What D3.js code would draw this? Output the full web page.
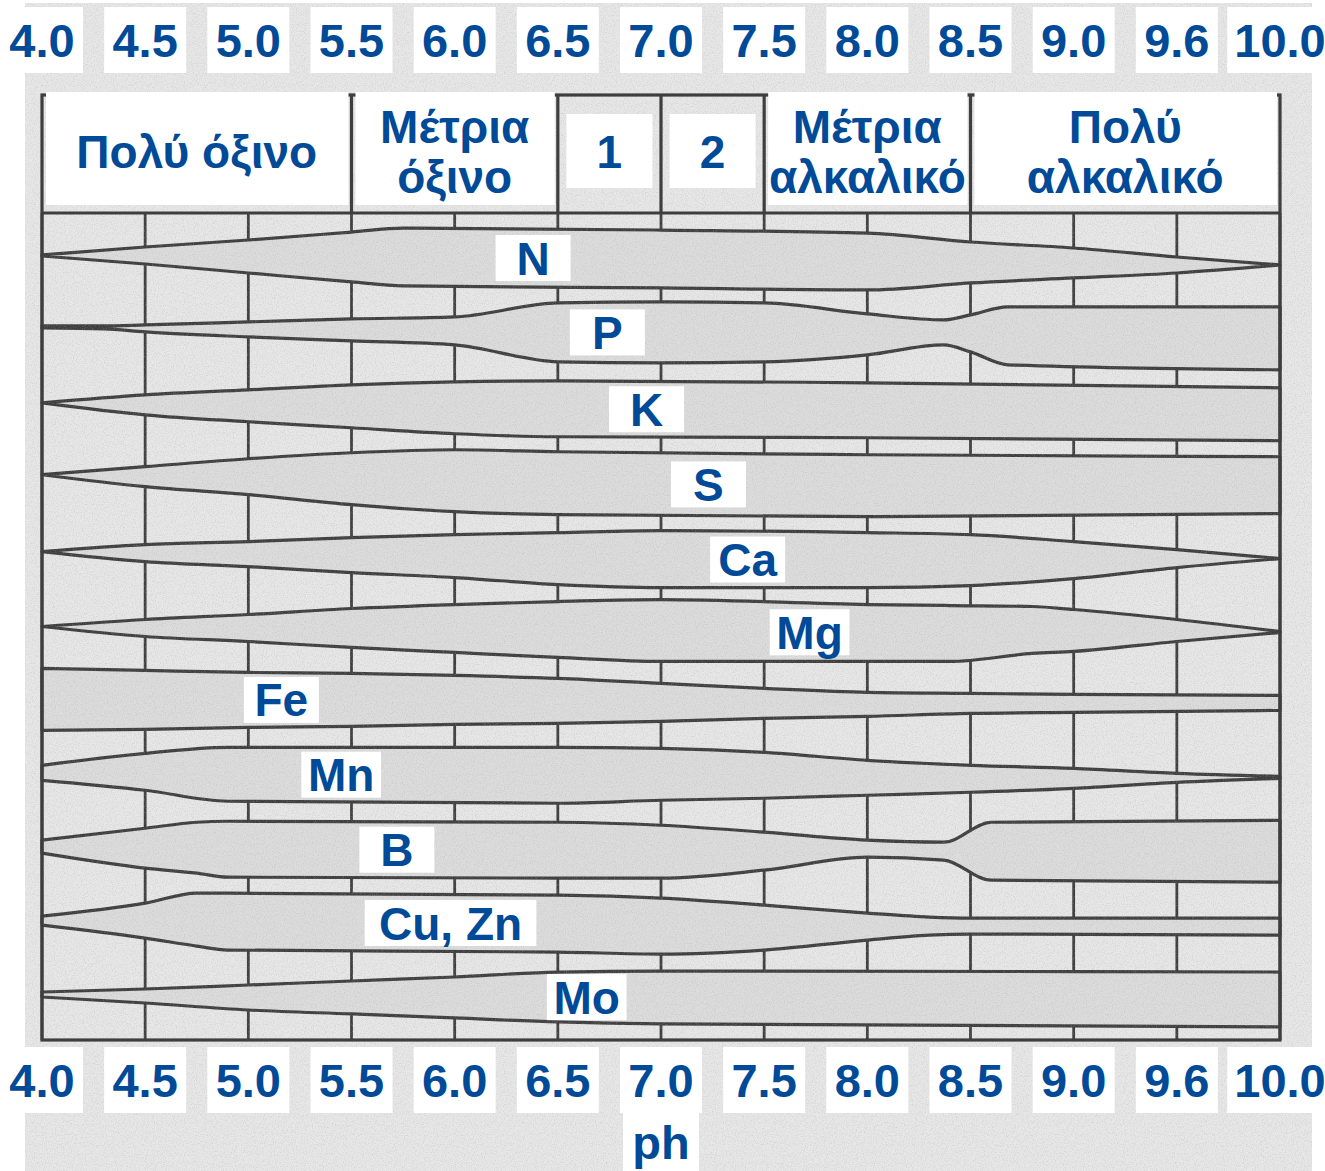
<!DOCTYPE html>
<html>
<head>
<meta charset="utf-8">
<script src="https://cdn.jsdelivr.net/npm/d3@7"></script>
<style>
body { margin: 0; background: #fff; }
text { font-family: "Liberation Sans", Arial, sans-serif; font-weight: bold; fill: #004a98; }
</style>
</head>
<body>
<div id="chart"></div>
<script>
//pH ticks along top and bottom
var phTicks = [4.0, 4.5, 5.0, 5.5, 6.0, 6.5, 7.0, 7.5, 8.0, 8.5, 9.0, 9.6, 10.0];
var tickLabels = ["4.0", "4.5", "5.0", "5.5", "6.0", "6.5", "7.0", "7.5", "8.0", "8.5", "9.0", "9.6", "10.0"];

//soil reaction zones in the header
var zoneNames = [["Πολύ όξινο"], ["Μέτρια", "όξινο"], ["1"], ["2"], ["Μέτρια", "αλκαλικό"], ["Πολύ", "αλκαλικό"]];
var zoneFrom = [4.0, 5.5, 6.5, 7.0, 7.5, 8.5];
var zoneTo = [5.5, 6.5, 7.0, 7.5, 8.5, 10.0];

//nutrients and where their name sits (pH)
var nutrients = ["N", "P", "K", "S", "Ca", "Mg", "Fe", "Mn", "B", "Cu, Zn", "Mo"];
var labelPh = [6.38, 6.74, 6.93, 7.23, 7.42, 7.72, 5.16, 5.45, 5.72, 5.98, 6.64];

//availability bands: [pH, extent above row line, extent below row line]
var bandN = [[4.0,0,1],[4.5,8,9],[5.0,15,18],[5.5,23,27],[5.75,27,31],[7.0,25,33],[8.0,22,35],[8.5,13,28],[9.0,7,23],[9.6,-2,18],[10.0,-10,10]];
var bandP = [[4.0,3,-1],[4.3,3,0],[4.5,4,3],[5.0,7,8],[5.5,10,12],[6.0,12,16],[6.5,26,33],[7.0,27,34],[7.5,26,33],[8.0,15,26],[8.37,9,16],[8.5,14,23],[8.68,22,36],[10.0,22,41]];
var bandK = [[4.0,0,0],[4.5,8,12],[5.0,13,19],[5.5,18,25],[6.0,21,31],[6.5,22,34],[8.0,20,35],[10.0,15,38]];
var bandS = [[4.0,2,-2],[4.5,10,10],[5.0,18,18],[5.5,24,28],[6.0,27,35],[6.5,25,38],[8.0,22,40],[10.0,20,37]];
var bandCa = [[4.0,-1,1],[4.5,6,11],[5.0,9,16],[5.5,13,22],[6.0,16,27],[6.5,18,34],[7.0,20,37],[8.0,18,37],[8.5,16,35],[9.0,9,28],[9.6,1,17],[10.0,-8,8]];
var bandMg = [[4.0,-2,2],[4.5,5,12],[5.0,10,17],[5.5,16,23],[6.0,20,28],[6.5,23,33],[7.0,25,37],[8.0,20,37],[8.4,19,37],[8.8,18,29],[9.0,15,27],[9.6,5,17],[10.0,-7,8]];
var bandFe = [[4.0,30,32],[4.5,28,31],[5.0,26,29],[5.5,25,28],[6.0,23,26],[6.5,20,25],[7.0,15,23],[7.5,10,20],[8.0,6,18],[8.5,5,15],[9.0,4,14],[10.0,3,12]];
var bandMn = [[4.0,7,8],[4.5,19,18],[4.9,25,29],[6.5,25,31],[7.0,24,28],[7.5,20,26],[8.0,12,23],[8.5,7,20],[9.0,4,16],[9.6,-1,10],[10.0,-4,6]];
var bandB = [[4.0,6,7],[4.5,18,22],[4.75,24,27],[4.9,25,31],[6.5,24,32],[7.0,21,32],[7.5,14,24],[8.0,6,11],[8.37,4,14],[8.6,24,34],[10.0,26,36]];
var bandCuZn = [[4.0,4,5],[4.5,17,18],[4.75,27,26],[4.9,27,30],[6.5,25,32],[7.0,22,34],[7.5,15,30],[8.0,7,20],[8.3,3,15],[8.5,2,14],[10.0,2,15]];
var bandMo = [[4.0,2,3],[4.5,5,9],[5.0,9,16],[5.5,13,20],[6.0,17,24],[6.5,22,28],[7.0,23,30],[10.0,22,33]];
var bands = [bandN, bandP, bandK, bandS, bandCa, bandMg, bandFe, bandMn, bandB, bandCuZn, bandMo];

//Width and height
var w = 1325;
var h = 1171;
var left = 42, right = 1280;
var headTop = 95, headBottom = 213, plotBottom = 1040;
var ink = "#3e3e3e";

//x: one equal step per pH tick
var xScale = d3.scaleLinear()
  .domain(phTicks)
  .range(phTicks.map(function(d, i) { return left + i * (right - left) / (phTicks.length - 1); }));

//y: one row per nutrient
var yScale = d3.scalePoint()
  .domain(nutrients)
  .range([255, 994]);

var offScale = d3.scaleLinear()
  .domain([0, 74])
  .range([0, yScale.step()]);

var svg = d3.select("#chart")
  .append("svg")
  .attr("width", w)
  .attr("height", h);

//scan-like grain
var defs = svg.append("defs");
var grain = defs.append("filter").attr("id", "grain").attr("x", 0).attr("y", 0).attr("width", 1).attr("height", 1);
grain.append("feTurbulence").attr("type", "fractalNoise").attr("baseFrequency", 0.9).attr("numOctaves", 2).attr("seed", 4);
grain.append("feColorMatrix").attr("type", "matrix")
  .attr("values", "0 0 0 0 0.4  0 0 0 0 0.4  0 0 0 0 0.4  0 0 0 -2.6 1.45");

//paper background
svg.append("rect")
  .attr("x", 25).attr("y", 3)
  .attr("width", 1287).attr("height", h - 3)
  .attr("fill", "#e7e7e7");

//vertical grid lines
svg.append("g")
  .selectAll("line")
  .data(phTicks)
  .enter()
  .append("line")
  .attr("x1", function(d) { return xScale(d); })
  .attr("x2", function(d) { return xScale(d); })
  .attr("y1", headBottom)
  .attr("y2", plotBottom)
  .attr("stroke", ink)
  .attr("stroke-width", 2.8);

//bands
function bandArea(name) {
  var ref = yScale(name);
  return d3.area()
    .x(function(d) { return xScale(d[0]); })
    .y0(function(d) { return ref - offScale(d[1]); })
    .y1(function(d) { return ref + offScale(d[2]); })
    .curve(d3.curveMonotoneX);
}

svg.append("g")
  .selectAll("path")
  .data(bands)
  .enter()
  .append("path")
  .attr("d", function(d, i) { return bandArea(nutrients[i])(d); })
  .attr("fill", "#dcdcdc")
  .attr("stroke", ink)
  .attr("stroke-width", 3.2)
  .attr("stroke-linejoin", "round");

//grain over paper
svg.append("rect")
  .attr("x", 25).attr("y", 3)
  .attr("width", 1287).attr("height", h - 3)
  .attr("filter", "url(#grain)")
  .attr("opacity", 0.3);

//frame and header lines
var frame = svg.append("g").attr("stroke", ink).attr("stroke-width", 3.2).attr("fill", "none");
frame.append("rect")
  .attr("x", left).attr("y", headTop)
  .attr("width", right - left).attr("height", plotBottom - headTop);
frame.append("line")
  .attr("x1", left).attr("x2", right)
  .attr("y1", headBottom).attr("y2", headBottom);
frame.selectAll(".zoneline")
  .data(zoneFrom.slice(1))
  .enter()
  .append("line")
  .attr("x1", function(d) { return xScale(d); })
  .attr("x2", function(d) { return xScale(d); })
  .attr("y1", headTop)
  .attr("y2", headBottom);

//header zone labels
var headMid = (headTop + headBottom) / 2 - 3;
var zones = svg.append("g")
  .selectAll("g")
  .data(zoneNames)
  .enter()
  .append("g");

zones.append("rect")
  .attr("fill", "#fff")
  .attr("x", function(d, i) {
    var a = xScale(zoneFrom[i]), b = xScale(zoneTo[i]);
    return d[0].length <= 2 ? (a + b) / 2 - 43 : a + 4;
  })
  .attr("width", function(d, i) {
    return d[0].length <= 2 ? 86 : xScale(zoneTo[i]) - xScale(zoneFrom[i]) - 7;
  })
  .attr("y", function(d) { return d[0].length <= 2 ? headMid - 37 : headTop - 3; })
  .attr("height", function(d) { return d[0].length <= 2 ? 74 : 113; });

zones.append("text")
  .attr("text-anchor", "middle")
  .attr("font-size", "46px")
  .each(function(d, i) {
    var cx = (xScale(zoneFrom[i]) + xScale(zoneTo[i])) / 2;
    var t = d3.select(this);
    d.forEach(function(line, j) {
      t.append("tspan")
        .attr("x", cx)
        .attr("y", headMid + (j - (d.length - 1) / 2) * 50)
        .attr("dy", "0.36em")
        .text(line);
    });
  });

//tick labels top and bottom
function tickRow(baseline) {
  var g = svg.append("g");
  var items = g.selectAll("g")
    .data(phTicks)
    .enter()
    .append("g");
  var boxes = items.append("rect").attr("fill", "#fff");
  var texts = items.append("text")
    .attr("x", function(d) { return xScale(d); })
    .attr("y", baseline)
    .attr("text-anchor", "middle")
    .attr("font-size", "47px")
    .text(function(d, i) { return tickLabels[i]; });
  boxes.each(function(d, i) {
    var tw = texts.nodes()[i].getComputedTextLength();
    var bw = Math.max(82, tw + 14);
    d3.select(this)
      .attr("x", xScale(d) - bw / 2)
      .attr("width", bw)
      .attr("y", baseline - 50)
      .attr("height", 66);
  });
}
tickRow(57);
tickRow(1097);

//axis title
svg.append("rect")
  .attr("fill", "#fff")
  .attr("x", xScale(7.0) - 38).attr("width", 76)
  .attr("y", 1113).attr("height", h - 1113);
svg.append("text")
  .attr("x", xScale(7.0))
  .attr("y", 1159)
  .attr("text-anchor", "middle")
  .attr("font-size", "47px")
  .text("ph");

//nutrient labels, centred inside their band
function bandMid(band, ph) {
  var i = d3.bisector(function(d) { return d[0]; }).right(band, ph);
  var a = band[i - 1], b = band[i];
  var t = (ph - a[0]) / (b[0] - a[0]);
  var up = a[1] + t * (b[1] - a[1]);
  var down = a[2] + t * (b[2] - a[2]);
  return (offScale(down) - offScale(up)) / 2;
}

var labels = svg.append("g")
  .selectAll("g")
  .data(nutrients)
  .enter()
  .append("g");
var labelBoxes = labels.append("rect").attr("fill", "#fff");
var labelTexts = labels.append("text")
  .attr("x", function(d, i) { return xScale(labelPh[i]); })
  .attr("y", function(d, i) { return yScale(d) + bandMid(bands[i], labelPh[i]); })
  .attr("dy", "0.36em")
  .attr("text-anchor", "middle")
  .attr("font-size", "46px")
  .text(function(d) { return d; });
labelBoxes.each(function(d, i) {
  var tw = labelTexts.nodes()[i].getComputedTextLength();
  var bw = Math.max(75, tw * 1.2);
  var cy = yScale(d) + bandMid(bands[i], labelPh[i]);
  d3.select(this)
    .attr("x", xScale(labelPh[i]) - bw / 2)
    .attr("width", bw)
    .attr("y", cy - 23)
    .attr("height", 46);
});
</script>
</body>
</html>
